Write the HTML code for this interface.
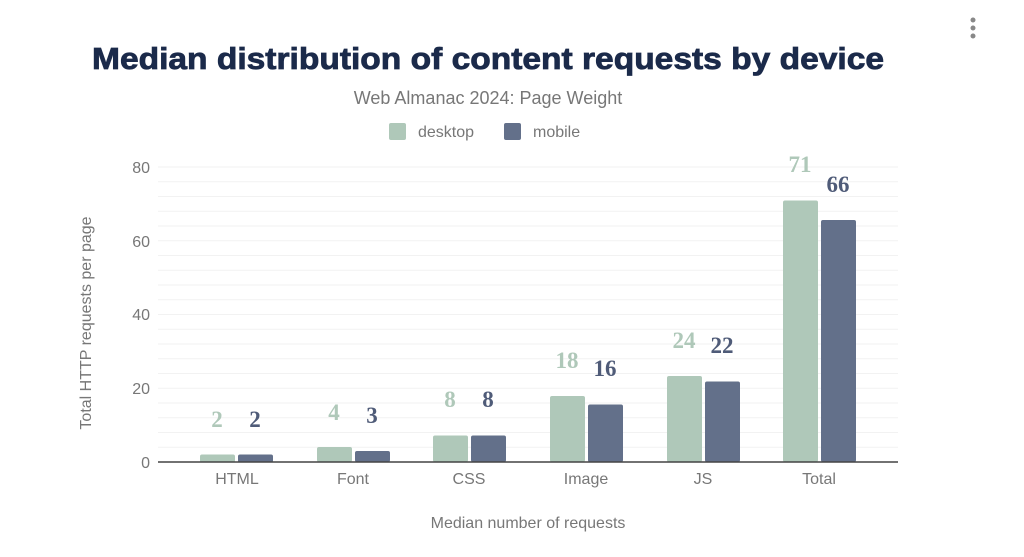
<!DOCTYPE html>
<html><head><meta charset="utf-8"><style>
html,body{margin:0;padding:0;background:#fff;}
svg{display:block;font-family:"Liberation Sans",Arial,sans-serif;}
.g{stroke:#f2f2f2;stroke-width:1}
.t{fill:#777;font-size:16px}
.dl{font-family:"Liberation Serif",serif;font-weight:bold;font-size:23px;text-anchor:middle}
</style></head><body>
<svg width="1024" height="557" viewBox="0 0 1024 557">
<circle cx="973" cy="20" r="2.5" fill="#888"/><circle cx="973" cy="28" r="2.5" fill="#888"/><circle cx="973" cy="36" r="2.5" fill="#888"/>
<text x="488" y="69" text-anchor="middle" font-size="31" font-weight="900" fill="#1b2a4a" textLength="792" lengthAdjust="spacingAndGlyphs" stroke="#1b2a4a" stroke-width="0.8">Median distribution of content requests by device</text>
<text x="488" y="104" text-anchor="middle" font-size="18" fill="#777">Web Almanac 2024: Page Weight</text>
<rect x="389" y="123" width="17" height="17" rx="2" fill="#afc8b9"/>
<text x="418" y="137" font-size="16" fill="#777">desktop</text>
<rect x="504" y="123" width="17" height="17" rx="2" fill="#63708a"/>
<text x="533" y="137" font-size="16" fill="#777">mobile</text>
<g>
<line class="g" x1="158" x2="898" y1="167" y2="167"/><line class="g" x1="158" x2="898" y1="181.75" y2="181.75"/><line class="g" x1="158" x2="898" y1="196.5" y2="196.5"/><line class="g" x1="158" x2="898" y1="211.25" y2="211.25"/><line class="g" x1="158" x2="898" y1="226" y2="226"/><line class="g" x1="158" x2="898" y1="240.75" y2="240.75"/><line class="g" x1="158" x2="898" y1="255.5" y2="255.5"/><line class="g" x1="158" x2="898" y1="270.25" y2="270.25"/><line class="g" x1="158" x2="898" y1="285" y2="285"/><line class="g" x1="158" x2="898" y1="299.75" y2="299.75"/><line class="g" x1="158" x2="898" y1="314.5" y2="314.5"/><line class="g" x1="158" x2="898" y1="329.25" y2="329.25"/><line class="g" x1="158" x2="898" y1="344" y2="344"/><line class="g" x1="158" x2="898" y1="358.75" y2="358.75"/><line class="g" x1="158" x2="898" y1="373.5" y2="373.5"/><line class="g" x1="158" x2="898" y1="388.25" y2="388.25"/><line class="g" x1="158" x2="898" y1="403" y2="403"/><line class="g" x1="158" x2="898" y1="417.75" y2="417.75"/><line class="g" x1="158" x2="898" y1="432.5" y2="432.5"/><line class="g" x1="158" x2="898" y1="447.25" y2="447.25"/>
</g>
<g class="t" text-anchor="end">
<text x="150" y="173">80</text><text x="150" y="247">60</text><text x="150" y="320">40</text><text x="150" y="394">20</text><text x="150" y="468">0</text>
</g>
<text transform="translate(91,323) rotate(-90)" text-anchor="middle" font-size="16" fill="#777">Total HTTP requests per page</text>
<g fill="#afc8b9">
<rect x="200" y="454.5" width="35" height="8" rx="2"/>
<rect x="317" y="447" width="35" height="15" rx="2"/>
<rect x="433" y="435.5" width="35" height="26.5" rx="2"/>
<rect x="550" y="396" width="35" height="66" rx="2"/>
<rect x="667" y="376" width="35" height="86" rx="2"/>
<rect x="783" y="200.5" width="35" height="261.5" rx="2"/>
</g>
<g fill="#63708a">
<rect x="238" y="454.5" width="35" height="8" rx="2"/>
<rect x="355" y="451" width="35" height="11" rx="2"/>
<rect x="471" y="435.5" width="35" height="26.5" rx="2"/>
<rect x="588" y="404.5" width="35" height="57.5" rx="2"/>
<rect x="705" y="381.5" width="35" height="80.5" rx="2"/>
<rect x="821" y="220" width="35" height="242" rx="2"/>
</g>
<line x1="158" x2="898" y1="462" y2="462" stroke="#444" stroke-width="1.5"/>
<g class="dl" fill="#afc8b9">
<text x="217" y="427">2</text><text x="334" y="420">4</text><text x="450" y="407">8</text><text x="567" y="368">18</text><text x="684" y="348">24</text><text x="800" y="172">71</text>
</g>
<g class="dl" fill="#4f5b78">
<text x="255" y="427">2</text><text x="372" y="423">3</text><text x="488" y="407">8</text><text x="605" y="376">16</text><text x="722" y="353">22</text><text x="838" y="192">66</text>
</g>
<g class="t" text-anchor="middle">
<text x="237" y="484">HTML</text><text x="353" y="484">Font</text><text x="469" y="484">CSS</text><text x="586" y="484">Image</text><text x="703" y="484">JS</text><text x="819" y="484">Total</text>
</g>
<text x="528" y="528" text-anchor="middle" font-size="16" fill="#777">Median number of requests</text>
</svg>
</body></html>
